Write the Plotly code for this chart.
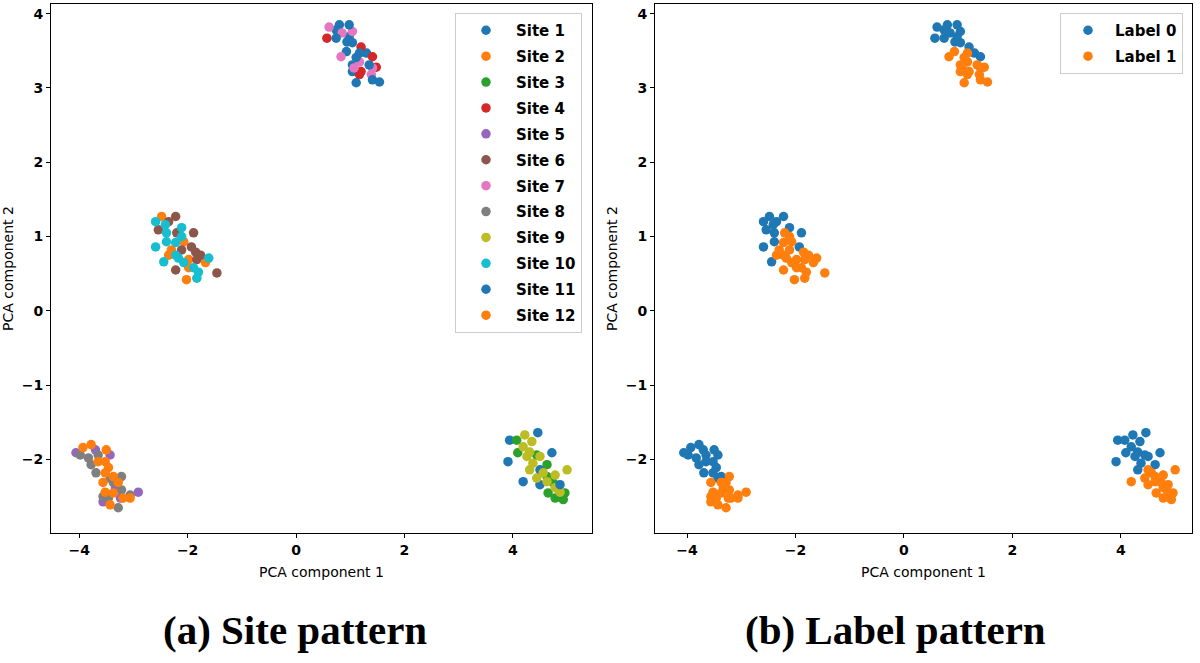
import plotly.graph_objects as go

# PCA points, grouped by the four clusters (x, y, site id, class label)
top_x = [0.61, 0.80, 0.98, 0.74, 0.57, 0.74, 0.85, 1.04, 0.94, 1.04, 0.98, 1.20, 0.93, 0.83, 1.17, 1.30,
         1.11, 1.41, 1.17, 1.04, 1.35, 1.07, 1.41, 1.48, 1.20, 1.17, 1.04, 1.39, 1.41, 1.54, 1.11]
top_y = [3.82, 3.85, 3.85, 3.78, 3.67, 3.67, 3.74, 3.76, 3.62, 3.61, 3.69, 3.55, 3.49, 3.42, 3.47, 3.47,
         3.41, 3.42, 3.35, 3.31, 3.31, 3.27, 3.27, 3.28, 3.22, 3.18, 3.22, 3.18, 3.11, 3.08, 3.07]
top_site = [7, 1, 11, 1, 4, 11, 7, 7, 1, 11, 1, 4, 1, 7, 11, 1,
            11, 4, 7, 1, 11, 7, 7, 4, 4, 4, 1, 7, 11, 1, 11]
top_label = [0, 0, 0, 0, 0, 0, 0, 0, 0, 0, 0, 0, 1, 1, 1, 0,
             1, 0, 1, 1, 1, 1, 1, 1, 1, 1, 1, 1, 1, 1, 1]

mid_x = [-2.48, -2.22, -2.59, -2.35, -2.41, -2.54, -2.39, -2.11, -2.20, -1.89, -2.11, -2.39, -2.22, -2.07,
         -1.93, -2.59, -2.30, -2.11, -1.85, -2.22, -2.35, -1.76, -2.44, -2.17, -1.98, -2.07, -1.83, -1.61,
         -1.67, -1.89, -1.98, -2.22, -1.80, -1.83, -2.02, -1.46]
mid_y = [1.27, 1.27, 1.20, 1.20, 1.16, 1.09, 1.05, 1.12, 1.05, 1.05, 1.00, 0.93, 0.92, 0.93,
         0.86, 0.86, 0.82, 0.82, 0.79, 0.75, 0.75, 0.75, 0.66, 0.71, 0.69, 0.65, 0.69, 0.71,
         0.65, 0.58, 0.58, 0.55, 0.52, 0.44, 0.42, 0.51]
mid_site = [2, 6, 10, 6, 10, 6, 10, 10, 6, 6, 10, 10, 10, 2,
            6, 10, 2, 6, 6, 10, 2, 6, 10, 10, 2, 10, 6, 10,
            2, 10, 2, 6, 10, 10, 2, 6]
mid_label = [0, 0, 0, 0, 0, 0, 0, 0, 1, 0, 1, 0, 1, 1,
             0, 0, 1, 1, 1, 1, 1, 1, 0, 1, 1, 1, 1, 1,
             1, 1, 1, 1, 1, 1, 1, 1]

bl_x = [-4.06, -3.98, -3.93, -3.78, -3.70, -3.50, -3.43, -3.83, -3.65, -3.65, -3.52, -3.78, -3.46, -3.69,
        -3.52, -3.43, -3.37, -3.22, -3.56, -3.37, -3.28, -3.33, -3.52, -3.37, -3.22, -2.91, -3.06, -3.19,
        -3.06, -3.56, -3.46, -3.24, -3.43, -3.28, -3.56]
bl_y = [-1.91, -1.94, -1.84, -1.80, -1.87, -1.87, -1.94, -1.98, -1.94, -2.03, -2.03, -2.07, -2.11, -2.18,
        -2.18, -2.25, -2.23, -2.23, -2.31, -2.31, -2.31, -2.38, -2.44, -2.45, -2.41, -2.44, -2.48, -2.52,
        -2.52, -2.57, -2.52, -2.52, -2.61, -2.65, -2.50]
bl_site = [5, 8, 12, 12, 5, 12, 5, 8, 8, 12, 12, 8, 12, 8,
           12, 8, 12, 8, 12, 8, 12, 5, 12, 12, 8, 5, 8, 12,
           12, 5, 8, 5, 12, 8, 8]
bl_label = [0, 0, 0, 0, 0, 0, 0, 0, 0, 0, 0, 0, 0, 0,
            0, 0, 0, 1, 1, 1, 1, 1, 1, 1, 1, 1, 1, 1,
            1, 1, 1, 1, 1, 1, 1]

br_x = [3.94, 4.07, 4.22, 4.46, 4.35, 4.19, 4.09, 4.31, 3.91, 4.26, 4.44, 4.50, 4.72, 4.37, 4.63, 4.31,
        4.50, 4.56, 4.44, 4.19, 4.63, 4.78, 5.00, 4.63, 4.50, 4.74, 4.87, 4.78, 4.65, 4.87, 4.96, 4.91,
        4.78, 4.93]
br_y = [-1.74, -1.74, -1.67, -1.64, -1.76, -1.83, -1.91, -1.90, -2.03, -1.96, -1.94, -1.96, -1.91, -2.05,
        -2.07, -2.14, -2.14, -2.18, -2.25, -2.30, -2.23, -2.21, -2.14, -2.30, -2.34, -2.31, -2.34, -2.38,
        -2.45, -2.44, -2.45, -2.52, -2.52, -2.54]
br_site = [1, 3, 9, 11, 9, 9, 3, 9, 1, 9, 3, 9, 11, 9, 3, 9,
           1, 9, 9, 11, 3, 9, 9, 9, 1, 3, 11, 9, 3, 9, 3, 1,
           3, 3]
br_label = [0, 0, 0, 0, 0, 0, 0, 0, 0, 0, 0, 0, 0, 0, 0, 0,
            1, 1, 1, 1, 1, 1, 1, 1, 1, 1, 1, 1, 1, 1, 1, 1,
            1, 1]

site_names = ["Site %d" % i for i in range(1, 13)]
label_names = ["Label 0", "Label 1"]

tab10 = ["#1f77b4", "#ff7f0e", "#2ca02c", "#d62728", "#9467bd",
         "#8c564b", "#e377c2", "#7f7f7f", "#bcbd22", "#17becf"]

all_x = top_x + mid_x + bl_x + br_x
all_y = top_y + mid_y + bl_y + br_y
all_site = top_site + mid_site + bl_site + br_site
all_label = top_label + mid_label + bl_label + br_label

fig = go.Figure()

for i, name in enumerate(site_names):
    sid = i + 1
    xs = [x for x, s in zip(all_x, all_site) if s == sid]
    ys = [y for y, s in zip(all_y, all_site) if s == sid]
    fig.add_trace(go.Scatter(x=xs, y=ys, mode="markers", name=name,
                             marker=dict(color=tab10[i % 10], size=9.5),
                             legendgroup=name, legend="legend",
                             xaxis="x", yaxis="y"))

for i, name in enumerate(label_names):
    xs = [x for x, l in zip(all_x, all_label) if l == i]
    ys = [y for y, l in zip(all_y, all_label) if l == i]
    fig.add_trace(go.Scatter(x=xs, y=ys, mode="markers", name=name,
                             marker=dict(color=tab10[i], size=9.5),
                             legendgroup=name, legend="legend2",
                             xaxis="x2", yaxis="y2"))

tickfont = dict(family="DejaVu Sans", size=14, color="black", weight="bold")
titlefont = dict(family="DejaVu Sans", size=14, color="black")
ax_common = dict(showline=True, mirror=True, linecolor="black", linewidth=1,
                 ticks="outside", ticklen=4, tickcolor="black", showgrid=False,
                 zeroline=False, tickfont=tickfont, automargin=False)

legend_font = dict(family="DejaVu Sans", size=15, color="black", weight="bold")
sub_font = dict(family="Liberation Serif", size=41, color="black", weight="bold")

fig.update_layout(
    width=1200, height=663,
    margin=dict(l=0, r=0, t=4, b=130),
    plot_bgcolor="white", paper_bgcolor="white",
    xaxis=dict(domain=[51 / 1200, 592 / 1200], range=[-4.52, 5.46], tickvals=[-4, -2, 0, 2, 4],
               title=dict(text="PCA component 1", font=titlefont, standoff=10), anchor="y", **ax_common),
    yaxis=dict(domain=[0, 1], range=[-2.99, 4.13], tickvals=[-2, -1, 0, 1, 2, 3, 4],
               title=dict(text="PCA component 2", font=titlefont, standoff=4), anchor="x", **ax_common),
    xaxis2=dict(domain=[655 / 1200, 1192 / 1200], range=[-4.59, 5.31], tickvals=[-4, -2, 0, 2, 4],
                title=dict(text="PCA component 1", font=titlefont, standoff=10), anchor="y2", **ax_common),
    yaxis2=dict(domain=[0, 1], range=[-2.99, 4.13], tickvals=[-2, -1, 0, 1, 2, 3, 4],
                title=dict(text="PCA component 2", font=titlefont, standoff=4), anchor="x2", **ax_common),
    legend=dict(x=582 / 1200, xanchor="right", y=0.983, yanchor="top",
                bordercolor="#cccccc", borderwidth=1, bgcolor="white",
                font=legend_font, tracegroupgap=3.4, itemwidth=50),
    legend2=dict(x=1183 / 1200, xanchor="right", y=0.983, yanchor="top",
                 bordercolor="#cccccc", borderwidth=1, bgcolor="white",
                 font=legend_font, tracegroupgap=3.4, itemwidth=44),
    annotations=[
        dict(text="(a) Site pattern", x=295 / 1200, y=-0.183, xref="paper", yref="paper",
             xanchor="center", yanchor="middle", showarrow=False, font=sub_font),
        dict(text="(b) Label pattern", x=895 / 1200, y=-0.183, xref="paper", yref="paper",
             xanchor="center", yanchor="middle", showarrow=False, font=sub_font),
    ],
)

fig.write_html("out.html", config={"displayModeBar": False},
               post_script="document.body.style.margin='0px';")
